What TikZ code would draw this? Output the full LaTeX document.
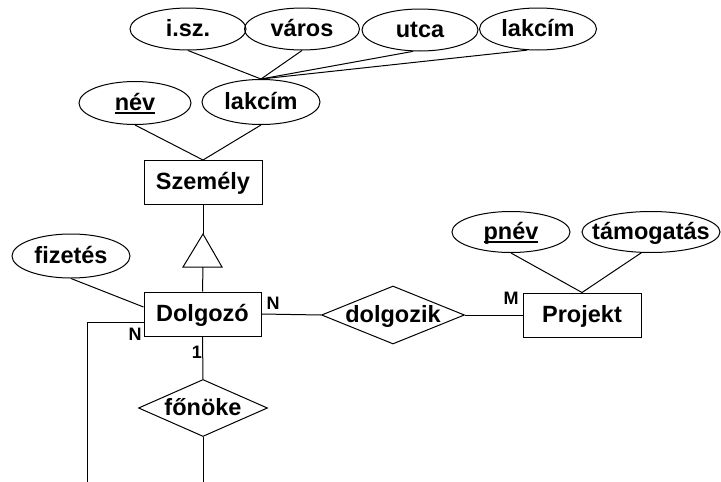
\documentclass[tikz,border=0pt]{standalone}
\usepackage{fontspec}
\setmainfont{Liberation Sans}
\usetikzlibrary{shapes.geometric,calc}
\newcommand{\thickul}[1]{\setbox0\hbox{#1}\rlap{\rule[-3.5pt]{\wd0}{1.6pt}}\box0}
\begin{document}
\begin{tikzpicture}[x=1pt,y=-1pt,
  every node/.style={font=\fontsize{23.5}{25}\selectfont\bfseries, inner sep=0pt, text height=15pt, text depth=1pt},
  attr/.style={draw, ellipse, line width=1pt, minimum height=42pt},
  ent/.style={draw, rectangle, line width=1pt, minimum width=118pt, minimum height=44pt},
  rel/.style={draw, diamond, line width=1pt},
  card/.style={font=\fontsize{18}{19}\selectfont\bfseries, text height=13pt, text depth=0pt},
  conn/.style={line width=1pt}]
\fill[white] (0,0) rectangle (721,482);
\useasboundingbox (0,0) rectangle (721,482);
% top attributes
\node[attr, minimum width=116pt] (isz) at (188,29) {\makebox[0pt]{i.sz.}};
\node[attr, minimum width=115pt] (varos) at (302,29) {\makebox[0pt]{város}};
\node[attr, minimum width=116pt] (utca) at (420,30) {\makebox[0pt]{utca}};
\node[attr, minimum width=117pt] (lakcimA) at (538,29) {\makebox[0pt]{lakcím}};
\node[attr, minimum width=112pt, minimum height=43pt] (nev) at (135,103) {\makebox[0pt]{\thickul{név}}};
\node[attr, minimum width=118pt, minimum height=45pt] (lakcimB) at (261,102) {\makebox[0pt]{lakcím}};
% entities
\node[ent] (szemely) at (203,182.5) {Személy};
\node[ent, minimum width=117pt] (dolgozo) at (202.5,314) {Dolgozó};
\node[ent] (projekt) at (582,315) {Projekt};
\node[attr, minimum width=118pt, minimum height=44pt] (fizetes) at (71,256) {\makebox[0pt]{fizetés}};
\node[attr, minimum width=118pt, minimum height=41pt] (pnev) at (511,232) {\makebox[0pt]{\thickul{pnév}}};
\node[attr, minimum width=138pt, minimum height=41pt] (tamog) at (651,232) {\makebox[0pt]{támogatás}};
% relationships
\node[rel, aspect=2.47, minimum width=143pt, minimum height=58pt] (dolgozik) at (393,315) {dolgozik};
\node[rel, aspect=2.26, minimum width=129pt, minimum height=57pt] (fonoke) at (203,408) {főnöke};
% triangle (ISA)
\coordinate (triTop) at (203,234);
\coordinate (triL) at (183,267);
\coordinate (triR) at (222,267);
\coordinate (triBase) at (203,267);
\draw[conn] (triTop) -- (triL) -- (triR) -- cycle;
% free ends
\coordinate (loopStart) at ($(dolgozo.west)+(0,8)$);
\coordinate (loopCorner) at (87,322);
\coordinate (loopEnd) at (87,482);
\coordinate (fonEnd) at (203,482);
% connectors
\draw[conn] (isz.south) -- (lakcimB.north);
\draw[conn] (varos.south) -- (lakcimB.north);
\draw[conn] (utca.252) -- (lakcimB.north);
\draw[conn] (lakcimA.243) -- (lakcimB.north);
\draw[conn] (nev.south) -- (szemely.north);
\draw[conn] (lakcimB.south) -- (szemely.north);
\draw[conn] (szemely.south) -- (triTop);
\draw[conn] (triBase) -- (dolgozo.north);
\draw[conn] (fizetes.south) -- ($(dolgozo.west)+(0,-7)$);
\draw[conn] (loopStart) -- (loopCorner) -- (loopEnd);
\draw[conn] (dolgozo.east) -- (dolgozik.west);
\draw[conn] (dolgozik.east) -- (projekt.west);
\draw[conn] (dolgozo.south) -- (fonoke.north);
\draw[conn] (fonoke.south) -- (fonEnd);
\draw[conn] (pnev.south) -- (projekt.north);
\draw[conn] (tamog.245) -- (projekt.north);
% cardinalities
\node[card] (cN1) at (273,302.5) {N};
\node[card] (cN2) at (135,334) {N};
\node[card] (cM) at (511,298) {M};
\node[card] (c1) at (197,352) {1};
\end{tikzpicture}
\end{document}
